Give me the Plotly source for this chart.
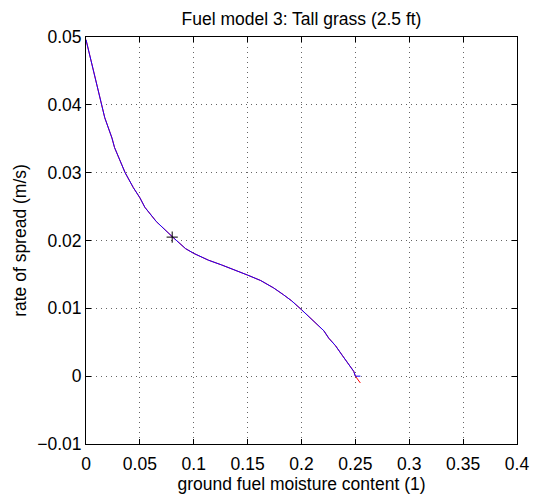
import plotly.graph_objects as go

# ---- data ----
moisture = [0, 0.0067, 0.0143, 0.0174, 0.0241, 0.0265, 0.0302, 0.0363, 0.0439, 0.050,
            0.0546, 0.0652, 0.0805, 0.0866, 0.0924, 0.1, 0.1136, 0.1258, 0.1379, 0.15,
            0.1621, 0.1742, 0.1833, 0.1909, 0.2, 0.2052, 0.213, 0.2207, 0.2253, 0.2315,
            0.2377, 0.2438, 0.2485, 0.25, 0.2546]
spread_raw = [0.0496, 0.0453, 0.0400, 0.0381, 0.0351, 0.0337, 0.0323, 0.0300, 0.0278, 0.0263,
              0.0249, 0.0228, 0.0205, 0.0197, 0.0188, 0.0181, 0.0171, 0.0164, 0.0157, 0.0149,
              0.0141, 0.0130, 0.0120, 0.0111, 0.0098, 0.0090, 0.0079, 0.0067, 0.0056, 0.0045,
              0.0031, 0.0017, 0.0007, 0.0, -0.001]
spread_clipped = [max(v, 0.0) for v in spread_raw]
marker_x = [0.08]
marker_y = [0.0205]

x_ticks = [0, 0.05, 0.1, 0.15, 0.2, 0.25, 0.3, 0.35, 0.4]
x_ticktext = ["0", "0.05", "0.1", "0.15", "0.2", "0.25", "0.3", "0.35", "0.4"]
y_ticks = [-0.01, 0, 0.01, 0.02, 0.03, 0.04, 0.05]
y_ticktext = ["\u22120.01", "0", "0.01", "0.02", "0.03", "0.04", "0.05"]

title_text = "Fuel model 3: Tall grass (2.5 ft)"
x_label = "ground fuel moisture content (1)"
y_label = "rate of spread (m/s)"

FONT = "Liberation Sans, Arial, Helvetica, sans-serif"
FS = 17.5

fig = go.Figure()
fig.add_trace(go.Scatter(x=moisture, y=spread_raw, mode="lines",
                         line=dict(color="#ff0000", width=1), showlegend=False))
fig.add_trace(go.Scatter(x=moisture, y=spread_clipped, mode="lines",
                         line=dict(color="#1a00ff", width=1), showlegend=False))
fig.add_trace(go.Scatter(x=marker_x, y=marker_y, mode="markers",
                         marker=dict(symbol="cross-thin", size=8, color="black",
                                     line=dict(color="black", width=1)),
                         showlegend=False))

axis_common = dict(
    showline=True, linecolor="black", linewidth=1, mirror="ticks",
    ticks="inside", ticklen=5, tickcolor="black", tickwidth=1,
    showgrid=True, gridcolor="#666666", gridwidth=1, griddash="1px,4px",
    zeroline=False, tickfont=dict(family=FONT, size=FS, color="black"),
)

fig.update_layout(
    width=541, height=501,
    margin=dict(l=86, r=18, t=37, b=44),
    paper_bgcolor="white", plot_bgcolor="white",
    font=dict(family=FONT, size=FS, color="black"),
    title=dict(text=title_text, x=0.5, xref="paper", y=1 - 19 / 501, yref="container",
               xanchor="center", yanchor="middle", font=dict(family=FONT, size=FS, color="black")),
    xaxis=dict(range=[0, 0.4], tickvals=x_ticks, ticktext=x_ticktext,
               ticklabelstandoff=4,
               title=dict(text=x_label, standoff=3, font=dict(family=FONT, size=FS)),
               **axis_common),
    yaxis=dict(range=[-0.01, 0.05], tickvals=y_ticks, ticktext=y_ticktext,
               title=dict(text=y_label, standoff=6, font=dict(family=FONT, size=FS)),
               **axis_common),
)

fig.write_html("out.html", config={"displayModeBar": False},
               post_script="document.body.style.margin='0px';")
